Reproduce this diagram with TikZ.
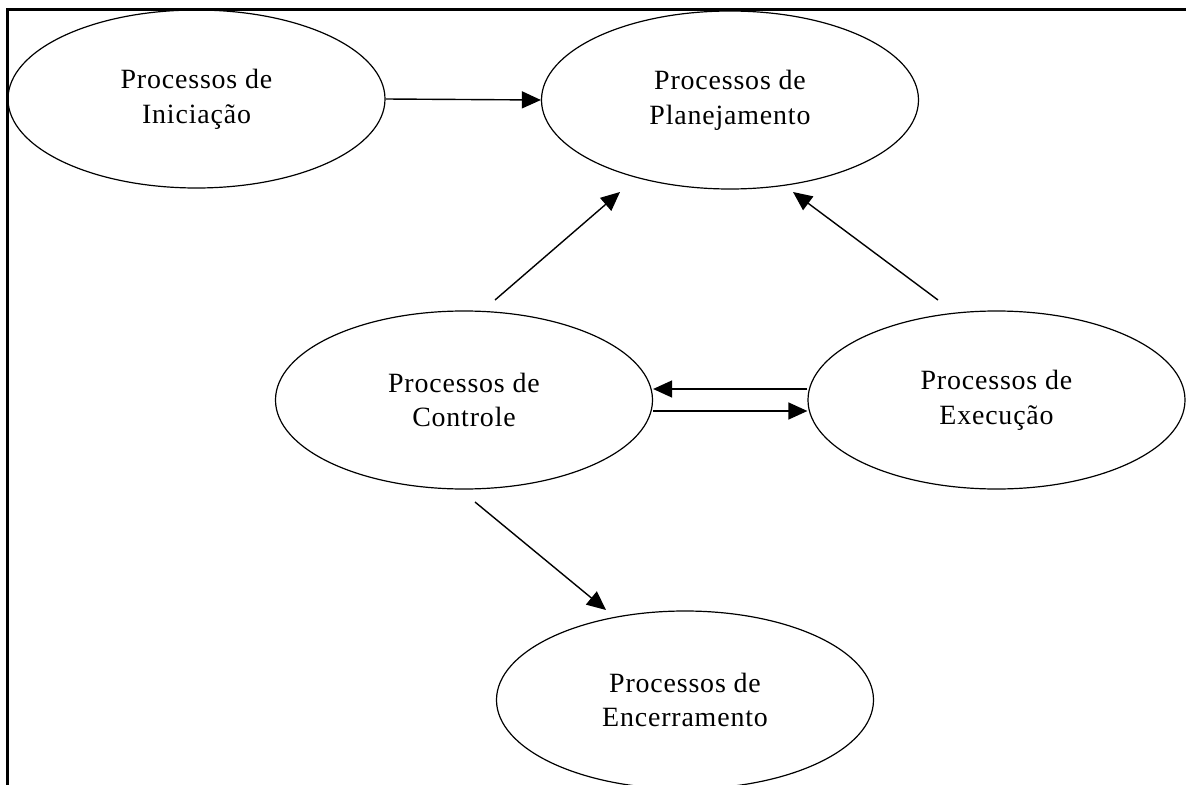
\documentclass[tikz,border=0pt]{standalone}
\usepackage{fontspec}
\setmainfont{Liberation Serif}[LetterSpace=3]
\usetikzlibrary{shapes.geometric,arrows.meta}
\begin{document}
\begin{tikzpicture}[x=1bp,y=-1bp,
  proc/.style={ellipse,draw,line width=1.2bp,minimum width=377bp,minimum height=178bp,
    inner sep=0pt,align=center,font=\fontsize{28}{35}\selectfont},
  arr/.style={line width=1.4bp,-{Triangle[length=19bp,width=17bp]}},
  frame/.style={line width=3.5bp}]
\useasboundingbox (0,0) rectangle (1186,785);
% open frame: left and top edges only
\draw[frame] (7.5,785) |- (1186,9.5);

% process groups
\node[proc] (ini)  at (196.5,99)  {Processos de\\Iniciação};
\node[proc] (plan) at (730,100)   {Processos de\\Planejamento};
\node[proc] (ctrl) at (464,400)   {Processos de\\Controle};
\node[proc] (exe)  at (996.5,400) {Processos de\\Execução};
\node[proc] (enc)  at (685,700)   {Processos de\\Encerramento};

% free-standing arrow ends
\coordinate (ctrlA) at (495,300);
\coordinate (planA) at (620,192);
\coordinate (exeA)  at (938,300);
\coordinate (planB) at (793,192);
\coordinate (ctrlB) at (475,502);
\coordinate (encA)  at (606,610);

% connectors
\draw[arr] (ini.east) -- (plan.west);
\draw[arr] (ctrlA) -- (planA);
\draw[arr] (exeA) -- (planB);
\draw[arr] ([yshift=11bp]exe.west) -- ([yshift=11bp]ctrl.east);
\draw[arr] ([yshift=-11bp]ctrl.east) -- ([yshift=-11bp]exe.west);
\draw[arr] (ctrlB) -- (encA);
\end{tikzpicture}
\end{document}
